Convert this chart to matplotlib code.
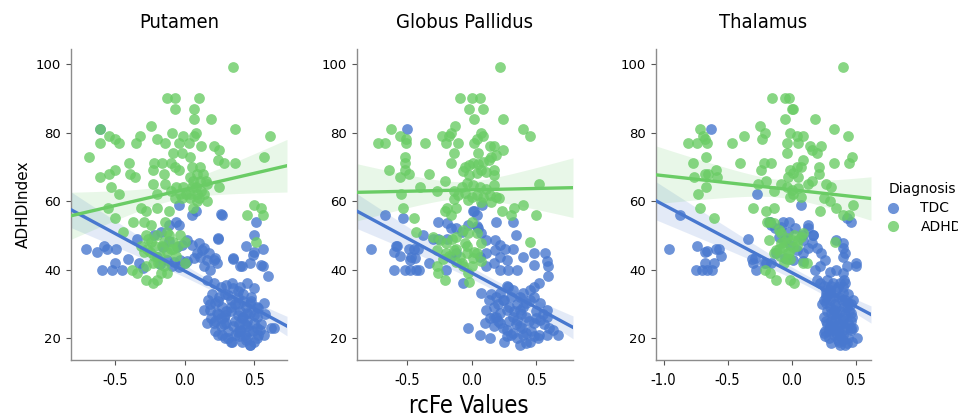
import numpy as np
import matplotlib
matplotlib.use('Agg')
import matplotlib.pyplot as plt
from matplotlib.lines import Line2D

regions = ['Putamen', 'Globus Pallidus', 'Thalamus']
groups = ['TDC', 'ADHD']
colors = {'TDC': '#4878CF', 'ADHD': '#6ACC65'}

# Putamen
put_adhd_x = [0.35, -0.13, -0.07, 0.10, -0.07, 0.065, 0.07, 0.19, -0.24, -0.61, 0.36, -0.09, 0.08, 0.065, -0.01,
              -0.32, -0.54, -0.50, -0.47, -0.61, -0.35, -0.20, -0.14, -0.04, 0.03, 0.12, 0.21, 0.25, 0.61, 0.57,
              -0.69, -0.08, -0.02, 0.04, -0.40, -0.22, -0.16, -0.10, -0.07, 0.05, 0.11, 0.24, 0.28, 0.36, -0.50,
              -0.54, -0.39, -0.61, -0.36, -0.23, -0.15, -0.04, 0.04, 0.09, 0.11, 0.16, -0.53, -0.23, -0.14, -0.06,
              -0.01, 0.05, 0.25, -0.47, -0.20, -0.10, -0.03, 0.01, 0.04, 0.09, 0.14, -0.07, -0.02, 0.04, 0.09,
              0.16, -0.55, -0.31, -0.20, -0.11, 0.06, -0.50, -0.37, -0.29, -0.24, -0.14, 0.45, 0.50, 0.55, 0.56,
              -0.44, -0.28, -0.26, -0.13, -0.11, -0.08, -0.03, 0.00, 0.51, -0.31, -0.27, -0.21, -0.08, -0.29, -0.22,
              -0.13, -0.06, 0.00, -0.28, -0.23, -0.19, -0.15, -0.38, -0.34, -0.13, -0.17, -0.28, -0.20, -0.23, -0.28,
              -0.25, -0.18, -0.16, -0.10, -0.24, -0.20, -0.15, -0.05, 0.08, 0.12, 0.15, 0.10, 0.06, 0.13]
put_adhd_y = [99, 90, 90, 90, 87, 87, 84, 84, 82, 81, 81, 80, 80, 79, 79,
              79, 79, 78, 77, 77, 77, 78, 77, 77, 77, 76, 76, 75, 79, 73,
              73, 74, 74, 73, 71, 71, 71, 71, 70, 70, 70, 72, 71, 71, 69,
              68, 68, 67, 67, 69, 68, 69, 67, 68, 66, 65, 64, 65, 65, 64,
              64, 64, 64, 62, 62, 63, 62, 62, 62, 62, 62, 61, 61, 61, 60,
              60, 58, 58, 58, 57, 58, 55, 54, 54, 53, 54, 56, 59, 58, 56,
              51, 50, 49, 51, 50, 48, 50, 48, 48, 47, 46, 47, 46, 45, 44,
              45, 44, 42, 41, 42, 42, 41, 40, 39, 39, 39, 37, 37, 36, 57,
              45, 44, 47, 46, 48, 50, 48, 47, 64, 63, 66, 61, 66, 68]
put_tdc_x = [-0.61, -0.71, -0.63, -0.58, -0.56, -0.49, -0.59, -0.52, -0.45, -0.50, -0.41, -0.34, -0.33, -0.30,
             -0.22, -0.17, -0.11, -0.06, -0.04, -0.04, 0.05, 0.08, 0.27, 0.24, 0.51, 0.50, 0.44, 0.56, 0.50,
             0.47, 0.56, 0.60, 0.35, 0.41, -0.155, -0.11, -0.055, -0.02, 0.017, 0.053, 0.10, 0.136, -0.127,
             -0.079, -0.031, 0.017, 0.065, 0.112, 0.16, 0.208, 0.141, 0.184, 0.232, -0.199, -0.179, -0.091,
             -0.043, 0.005, 0.089, 0.124, 0.172, 0.263, 0.347, 0.395, 0.215, 0.239, 0.49, 0.55,
             0.16, 0.21, 0.26, 0.30, 0.35, 0.40, 0.45, 0.50, 0.17, 0.22, 0.27, 0.33, 0.38, 0.42, 0.47, 0.52,
             0.57, 0.18, 0.23, 0.28, 0.33, 0.38, 0.42, 0.47, 0.52, 0.21, 0.26, 0.30, 0.35, 0.40, 0.45, 0.50,
             0.54, 0.64, 0.24, 0.29, 0.34, 0.39, 0.44, 0.47, 0.52, 0.57, 0.16, 0.14, 0.24, 0.31, 0.38, 0.48,
             0.53, 0.22, 0.29, 0.41, 0.45, 0.50, 0.38, 0.43, 0.53, 0.62, 0.33, 0.47,
             0.20, 0.25, 0.29, 0.33, 0.36, 0.40, 0.44, 0.48, 0.19, 0.24, 0.28, 0.31, 0.36, 0.39, 0.43, 0.46,
             0.49, 0.27, 0.31, 0.36, 0.41, 0.45, 0.50, 0.55, 0.58, 0.18, 0.22, 0.34, 0.42, 0.30, 0.38, 0.26,
             0.45, 0.52, 0.40]
put_tdc_y = [81, 46, 45, 47, 46, 46, 40, 40, 40, 42, 43, 49, 42, 40.4,
             50, 51, 53, 54, 53, 59, 56, 57, 56, 49, 54, 50, 47, 46, 45,
             42, 41, 38, 43, 41, 46.7, 48.2, 46.7, 47.2, 48.7, 47.2, 47.7, 46.2, 42.8,
             42.1, 42.8, 42.4, 43.3, 43.8, 42.8, 42.8, 40.9, 39.9, 41.9, 43.8, 41.7, 40.9,
             40.7, 41.9, 44.8, 45.6, 44.8, 56.2, 43.3, 40.9, 43.3, 49.2, 44.3, 41.2,
             37, 36, 35, 35.5, 34.6, 35, 36, 34.6, 31.2, 30.2, 29.2, 31.2, 32.1, 30.7, 30.2, 29.2,
             30.2, 28.3, 27.3, 26.3, 27.8, 26.8, 26.3, 27.3, 26.3, 24.4, 23.4, 24.4, 23.4, 22.4, 23.4, 24.4,
             22.4, 22.9, 21, 20, 19, 20.5, 19.5, 18, 20, 21, 24.4, 28.3, 30.7, 32.6, 33.6, 30.7,
             28.7, 24.9, 26.8, 25.8, 27.3, 26.8, 21.9, 21, 21, 22.9, 19, 17.9,
             33, 32, 33, 29, 30, 28, 29, 32, 26, 27, 24, 22, 25, 24, 24, 22,
             22, 21, 20, 21, 19, 20, 19, 24, 27, 30, 22, 36, 33, 28, 30, 26,
             25, 23, 22]

# Globus Pallidus
gp_adhd_x = [0.22, -0.09, 0.00, 0.06, -0.02, 0.09, 0.02, 0.24, -0.13, -0.63, 0.40, -0.16, -0.18, 0.07, 0.09,
             -0.23, -0.20, -0.56, -0.51, -0.51, 0.45, -0.73, -0.67, -0.36, -0.11, 0.02, 0.04, 0.14, 0.17, 0.24,
             -0.52, -0.14, 0.05, 0.15, 0.19, -0.64, -0.52, -0.52, -0.49, -0.33, -0.56, -0.16, -0.05, -0.02, 0.01,
             0.05, 0.09, 0.13, -0.07, -0.02, 0.04, 0.07, 0.11, 0.17, 0.17, -0.21, -0.14, -0.08, -0.04, 0.01,
             0.06, 0.11, 0.17, 0.52, -0.40, -0.27, -0.11, -0.05, 0.00, 0.04, 0.09, 0.14, 0.19, -0.55, -0.14,
             -0.03, 0.07, 0.15, 0.21, -0.53, -0.19, -0.12, 0.23, 0.40, 0.33, 0.50, 0.30, -0.45, -0.21, -0.16,
             -0.43, -0.30, -0.25, -0.20, -0.12, -0.07, 0.00, -0.03, 0.04, 0.07, -0.05, 0.45, -0.27, -0.20, -0.14,
             -0.09, -0.04, 0.01, 0.04, 0.07, -0.27, -0.26, -0.21, -0.12, -0.07, -0.03, -0.02,
             -0.18, -0.12, -0.08, -0.04, 0.02, -0.15, -0.22, 0.00]
gp_adhd_y = [99, 90, 90, 90, 87, 87, 84, 84, 82, 81, 81, 80, 79, 80, 79,
             79, 77, 79, 78, 77, 79, 77, 77, 77, 77, 77, 78, 76, 76, 75,
             73, 74, 74, 73, 73.5, 69, 71, 69, 68, 68, 67, 71, 70, 70.5, 71,
             70.8, 71.5, 72, 68.9, 67.6, 68.1, 69.1, 68.6, 67.6, 69.1, 66, 62.8, 64.2, 65.2, 64.7,
             64.2, 63.4, 64.7, 65, 64, 63, 61.8, 62.3, 61.3, 61.8, 61.3, 61.8, 61.3, 62, 60.5,
             60.3, 59.8, 59.8, 61, 58, 58, 58, 57, 59, 58, 56, 56, 55, 57, 56,
             51, 49.6, 48.7, 47.7, 49.6, 51.6, 54, 50.6, 50.6, 47.7, 47.7, 48, 45.8, 44.8, 45.8,
             43.8, 44.8, 43.3, 44.8, 42.4, 41, 39, 37, 42.1, 40.9, 39, 36.5,
             44, 46, 42, 47, 45, 49, 43, 41]
gp_tdc_x = [-0.50, -0.78, -0.67, -0.53, -0.60, -0.60, -0.58, -0.52, -0.48, -0.43, -0.49, -0.48, -0.42, -0.44,
            -0.33, -0.30, -0.26, -0.20, -0.16, -0.12, -0.07, -0.03, 0.06, 0.14, 0.01, 0.04, 0.08, 0.04, 0.07,
            0.11, 0.18, 0.22, 0.26, 0.32, 0.18, 0.11, 0.06, 0.22, 0.27, 0.17, 0.11, 0.22, 0.28, 0.35, 0.40,
            0.48, 0.57, 0.58, 0.59, 0.59, 0.52, 0.45, 0.48, 0.19, 0.34, 0.32,
            0.07, 0.13, 0.17, 0.22, 0.27, 0.32, 0.37, 0.42, 0.48, 0.53, 0.58, 0.11, 0.17, 0.22, 0.27, 0.32,
            0.37, 0.42, 0.48, 0.53, 0.58, 0.10, 0.17, 0.22, 0.27, 0.32, 0.37, 0.42, 0.48, 0.51, 0.58, 0.63,
            0.67, 0.27, 0.37, 0.45, 0.24, 0.29, 0.35, 0.19, 0.40, 0.19,
            0.15, 0.20, 0.25, 0.30, 0.35, 0.40, 0.45, 0.50, 0.55, 0.14, 0.20, 0.24, 0.29, 0.34, 0.39, 0.44,
            0.50, 0.56, 0.30, 0.35, 0.40, 0.46, 0.52, 0.25, 0.42, 0.33, 0.38, 0.28, 0.48, 0.60,
            -0.19, -0.16, -0.38, -0.26, -0.19, -0.59, -0.56, -0.47, -0.41, -0.45,
            0.02, 0.05, -0.03, -0.08, -0.12]
gp_tdc_y = [81, 46, 56, 55, 40, 45, 47, 40, 40, 40, 46, 42.8, 46, 43.3,
            42, 49, 54, 40, 43.8, 44.8, 36, 23, 21, 20, 57, 56, 59, 52.6, 50.6,
            48.7, 48.7, 47.2, 45.9, 45.9, 45.8, 44.8, 43.8, 43.8, 42.8, 41.9, 40.9, 39.9, 39.9, 39.9, 43.8,
            44.8, 44.8, 42.4, 40.9, 38, 36, 34.1, 41.4, 54, 50, 54,
            33.1, 31.2, 29.2, 33.1, 35.1, 34.1, 32.1, 30.2, 32.1, 30.2, 28.3, 28.3, 26.3, 27.3, 28.3, 26.3,
            28.3, 26.3, 24.4, 25.3, 26.3, 24.4, 23.4, 24.4, 22.4, 21.5, 23.4, 21.5, 20.5, 20, 21, 22.4,
            21, 20.5, 18, 19, 31.2, 29.2, 25.3, 26.3, 33.1, 32.1,
            33, 30, 31, 32, 30, 29, 31, 28, 27, 26, 25, 23, 25, 24, 23, 25,
            26, 24, 21, 20, 21, 22, 21, 19, 18.5, 28, 27, 35, 35, 23,
            53.6, 52, 50, 49, 49, 47, 44, 43.6, 40, 46,
            57, 52, 53, 51, 52]

# Thalamus
th_adhd_x = [0.40, -0.15, -0.05, -0.02, 0.00, 0.01, -0.05, 0.18, -0.25, -0.72, 0.33, -0.21, -0.23, -0.01, -0.37,
             -0.69, -0.68, 0.04, 0.09, 0.05, 0.44, -0.81, -0.74, -0.66, -0.47, -0.04, -0.04, 0.14, 0.23, 0.16,
             0.20, -0.67, 0.47, -0.77, -0.40, -0.22, -0.16, 0.33, 0.45, 0.21, 0.21, 0.09, 0.07, 0.04, -0.59,
             -0.65, -0.68, -0.58, -0.24, -0.01, 0.01, -0.03, 0.05, -0.76, -0.26, -0.20, -0.08, 0.13, 0.16, 0.27,
             0.31, -0.67, -0.14, -0.04, 0.00, 0.05, 0.01, 0.07, -0.01, -0.73, 0.25, 0.30, 0.35, 0.40, 0.45,
             0.48, 0.22, -0.72, -0.30, -0.14, -0.61, -0.20, -0.19, -0.17, -0.14, -0.10, -0.08, -0.04, 0.00, -0.07,
             -0.03, 0.01, 0.07, 0.09, 0.05, 0.34, 0.09, 0.12, -0.09, -0.06, -0.01, -0.21, -0.17, -0.12, -0.01,
             0.02, -0.18, -0.08, -0.12, -0.14,
             -0.10, -0.06, -0.02, 0.02, -0.04, 0.04]
th_adhd_y = [99, 90, 90, 90, 87, 87, 84, 84, 82, 81, 81, 80, 78, 80, 79,
             79, 78, 79, 79, 77, 79, 77, 77, 77, 77, 77, 74, 76, 76, 75,
             74, 73, 73, 71, 71, 71, 71, 71, 71, 70, 68, 72, 70, 70, 69,
             68, 68, 67, 69, 69.1, 68.1, 67.1, 67.1, 67, 65, 66, 65, 65, 66, 65,
             64, 64, 63, 64.2, 63.2, 63.7, 62.1, 61.3, 61.3, 62, 61, 60, 58, 56, 56,
             59, 57, 58, 58, 58, 55, 57, 54, 54, 53.5, 51.6, 50.6, 49.2, 48.7, 46.7,
             44.8, 46.7, 49.6, 50.6, 48.7, 48, 42, 42, 44, 42, 43, 40, 39, 37, 37,
             36, 48.7, 47.7, 45.8, 44.8,
             46, 48, 45, 50, 43, 47]
th_tdc_x = [-0.63, -0.27, 0.07, -0.96, -0.87, -0.74, -0.68, -0.66, -0.59, -0.57, -0.55, -0.75, -0.70, -0.66,
            -0.62, -0.68, -0.61, -0.34, -0.31, -0.30, -0.28, -0.20, -0.16, -0.18, -0.16, -0.07, -0.02, -0.10,
            -0.05, -0.01, 0.04, 0.09, 0.13, 0.09, -0.12, -0.05, 0.01, 0.09, 0.13, 0.17, 0.16, 0.20, 0.23,
            0.26, 0.22, 0.18, 0.43, 0.46, 0.35, 0.40, 0.40, 0.42, 0.40, 0.30, 0.35, 0.40, 0.43, 0.50, 0.50,
            0.42, 0.41, 0.20, 0.22, 0.25, 0.27, 0.30, 0.33, 0.25, 0.27, 0.30, 0.33, 0.35, 0.25, 0.27, 0.30,
            0.33, 0.35, 0.38, 0.40, 0.43, 0.42, 0.26, 0.25, 0.36, 0.40, 0.44, 0.46, 0.47, 0.39, 0.40, 0.43,
            0.44, 0.46, 0.48, 0.51, 0.27, 0.31, 0.35, 0.38, 0.34, 0.31, 0.36, 0.29, 0.40, 0.46,
            0.28, 0.32, 0.36, 0.40, 0.30, 0.34, 0.37, 0.41, 0.28, 0.31, 0.35, 0.38, 0.42, 0.45, 0.28, 0.32,
            0.36, 0.39, 0.43, 0.46, 0.29, 0.33, 0.37, 0.40, 0.44, 0.47, 0.31, 0.38, 0.35, 0.42, 0.27, 0.24,
            0.30, 0.44, 0.46, 0.33, 0.37, 0.40, 0.48, 0.26,
            -0.17, -0.13, -0.08, -0.03, 0.03, 0.08, 0.13, 0.17, -0.29, -0.22]
th_tdc_y = [81, 62, 59, 46, 56, 47, 45, 45.5, 46, 46, 44, 40, 40, 40,
            40, 42, 42, 49, 43, 42, 40, 42, 42, 54, 53, 54, 54, 49.6,
            48.7, 47.2, 45.8, 44.8, 46.2, 48.7, 44.8, 43.3, 42.8, 42.4, 53, 50.1, 47.7, 46.2, 44.8,
            42.8, 40.9, 39.9, 55, 54, 48.7, 47.7, 46.2, 44.8, 43.8, 39.2, 39.9, 38.9, 40.9, 40.9, 41.9,
            36, 37, 37, 36, 35.1, 34.1, 33.1, 32.1, 31.2, 30.2, 29.2, 28.3, 27.3, 26.3, 24.9, 23.4,
            22.4, 21.5, 20.5, 19.5, 18.5, 18, 20.5, 21.5, 23.4, 25.3, 24.4, 22.4, 26.3, 31.2, 33.1, 29.2,
            30.2, 27.3, 31.2, 20, 32.1, 35.1, 34.1, 36, 25.3, 27.3, 19.5, 22.4, 22.4, 22.9,
            37, 36, 35, 35, 31, 30, 32, 29, 28, 25, 26, 28, 27, 28, 24, 23,
            22, 24, 23, 25, 20, 21, 19, 21, 20, 19, 18.5, 18, 29, 31, 33, 30,
            34, 33, 30, 27, 24, 26, 23, 22,
            53.9, 52.1, 52.4, 51, 52.1, 50.1, 52.1, 50.1, 43.4, 41.9]

data = {
    'Putamen': {'TDC': (put_tdc_x, put_tdc_y), 'ADHD': (put_adhd_x, put_adhd_y)},
    'Globus Pallidus': {'TDC': (gp_tdc_x, gp_tdc_y), 'ADHD': (gp_adhd_x, gp_adhd_y)},
    'Thalamus': {'TDC': (th_tdc_x, th_tdc_y), 'ADHD': (th_adhd_x, th_adhd_y)},
}
xlims = {'Putamen': (-0.816, 0.735), 'Globus Pallidus': (-0.89, 0.784), 'Thalamus': (-1.06, 0.62)}
xticks = {'Putamen': [-0.5, 0.0, 0.5], 'Globus Pallidus': [-0.5, 0.0, 0.5], 'Thalamus': [-1.0, -0.5, 0.0, 0.5]}


def fit_band(x, y, xs):
    # OLS fit with 95% confidence band for the mean
    x = np.asarray(x, float)
    y = np.asarray(y, float)
    n = len(x)
    b, a = np.polyfit(x, y, 1)
    res = y - (a + b * x)
    s2 = np.sum(res ** 2) / (n - 2)
    sxx = np.sum((x - x.mean()) ** 2)
    se = np.sqrt(s2 * (1.0 / n + (xs - x.mean()) ** 2 / sxx))
    yh = a + b * xs
    return yh, yh - 1.97 * se, yh + 1.97 * se


fig = plt.figure(figsize=(9.58, 4.2), dpi=100)
lefts = [71, 357, 656]
widths = [216, 216, 215]

for i, reg in enumerate(regions):
    ax = fig.add_axes([lefts[i] / 958, 60 / 420, widths[i] / 958, 311 / 420])
    lo, hi = xlims[reg]
    xs = np.linspace(lo, hi, 100)
    for g in groups:
        x, y = data[reg][g]
        c = colors[g]
        ax.scatter(x, y, s=60, color=c, alpha=0.8, linewidths=0, zorder=2)
        yh, ylo, yhi = fit_band(x, y, xs)
        ax.fill_between(xs, ylo, yhi, color=c, alpha=0.15, linewidth=0, zorder=1)
        ax.plot(xs, yh, color=c, lw=2.4, zorder=3)
    ax.set_xlim(lo, hi)
    ax.set_ylim(13.6, 104.4)
    ax.set_yticks([20, 40, 60, 80, 100])
    ax.set_xticks(xticks[reg])
    ax.set_xticklabels(['%.1f' % t for t in xticks[reg]], fontsize=10.5, fontstretch='condensed')
    ax.tick_params(axis='y', labelsize=9.5, length=3.5, color='#555555')
    ax.tick_params(axis='x', length=3.5, color='#555555', pad=6)
    for sp in ['top', 'right']:
        ax.spines[sp].set_visible(False)
    for sp in ['left', 'bottom']:
        ax.spines[sp].set_color('#8c8c8c')
        ax.spines[sp].set_linewidth(1.0)
    fig.text((lefts[i] + widths[i] / 2) / 958, 1 - 22 / 420, reg, fontsize=14.5,
             fontstretch='condensed', ha='center', va='center')
    if i == 0:
        ax.set_ylabel('ADHDIndex', fontsize=11)

fig.text(469 / 958, 1 - 406 / 420, 'rcFe Values', fontsize=17, fontstretch='condensed',
         ha='center', va='center')

handles = [Line2D([], [], marker='o', ls='', color=colors[g], alpha=0.8, markersize=8, markeredgewidth=0)
           for g in groups]
leg = fig.legend(handles, groups, title='Diagnosis', loc='upper left', bbox_to_anchor=(876 / 958, 1 - 170 / 420),
                 frameon=False, fontsize=10, title_fontsize=10, handlelength=0.7, handletextpad=1.6,
                 labelspacing=0.35)
leg._legend_box.align = 'left'

fig.savefig('out.png', dpi=100)
